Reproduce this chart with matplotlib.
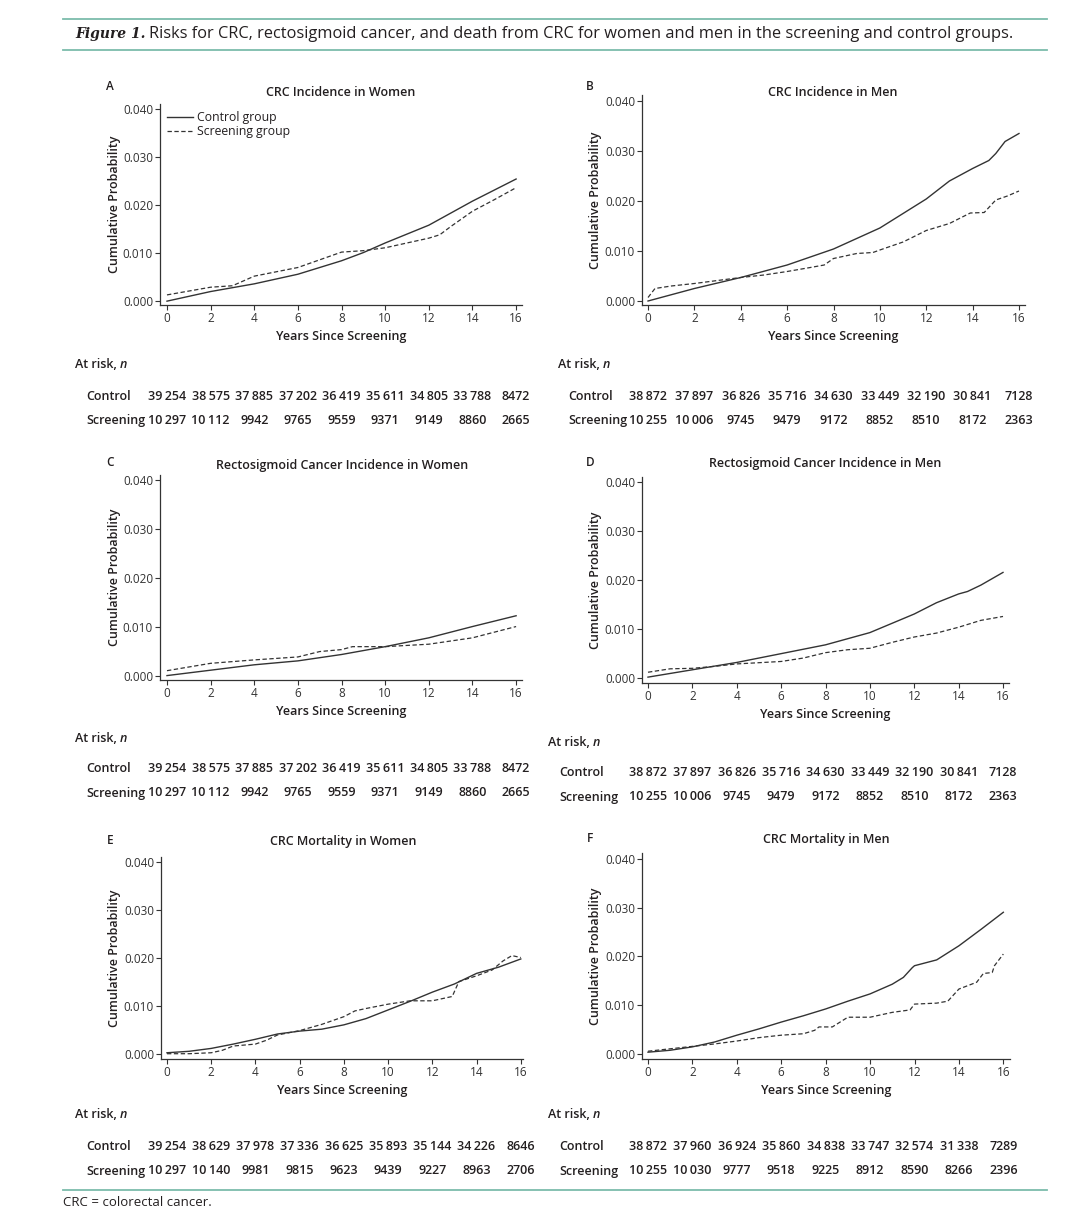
import matplotlib
matplotlib.use('Agg')
import matplotlib.pyplot as plt
from matplotlib.lines import Line2D
from matplotlib.text import Annotation

plt.rcParams['font.family'] = ['Open Sans', 'DejaVu Sans']
INK = '#231f20'
TEAL = '#7cbcab'
W, H = 1080, 1223

# ---- data ----
xticks = [0, 2, 4, 6, 8, 10, 12, 14, 16]
yticks = [0.0, 0.01, 0.02, 0.03, 0.04]

# A  CRC incidence, women
a_ctrl_x = [0, 2, 4, 6, 8, 9, 10, 12, 13, 14, 16]
a_ctrl_y = [0.0, 0.0020, 0.0036, 0.0056, 0.0084, 0.0101, 0.0121, 0.0158, 0.0183, 0.0208, 0.0254]
a_scr_x = [0, 1, 2, 3, 4, 5, 6, 7, 8, 9, 10, 11, 12, 12.5, 13, 14, 15, 16]
a_scr_y = [0.0013, 0.0021, 0.0029, 0.0032, 0.0052, 0.0061, 0.0070, 0.0086, 0.0102, 0.0105,
           0.0111, 0.0121, 0.0131, 0.0138, 0.0155, 0.0187, 0.0211, 0.0236]

# B  CRC incidence, men
b_ctrl_x = [0, 2, 4, 6, 8, 10, 11, 12, 13, 14, 14.7, 15, 15.4, 16]
b_ctrl_y = [0.0, 0.0025, 0.0047, 0.0072, 0.0104, 0.0146, 0.0175, 0.0204, 0.0240, 0.0265,
            0.0281, 0.0295, 0.0319, 0.0335]
b_scr_x = [0, 0.3, 1, 2, 3, 4, 5, 6, 7, 7.6, 8, 9, 9.7, 10, 11, 12, 13, 13.9, 14.5, 15, 15.5, 16]
b_scr_y = [0.0007, 0.0025, 0.0030, 0.0035, 0.0041, 0.0047, 0.0052, 0.0059, 0.0067, 0.0072,
           0.0085, 0.0095, 0.0097, 0.0102, 0.0118, 0.0141, 0.0155, 0.0176, 0.0177, 0.0202,
           0.0210, 0.0220]

# C  rectosigmoid incidence, women
c_ctrl_x = [0, 2, 4, 6, 8, 10, 12, 14, 16]
c_ctrl_y = [0.0001, 0.0012, 0.0023, 0.0031, 0.0044, 0.0060, 0.0078, 0.0101, 0.0123]
c_scr_x = [0, 2, 4, 6, 7, 8, 8.5, 10, 12, 14, 16]
c_scr_y = [0.0011, 0.0026, 0.0033, 0.0039, 0.0050, 0.0054, 0.0060, 0.0060, 0.0065, 0.0078, 0.0101]

# D  rectosigmoid incidence, men
d_ctrl_x = [0, 2, 4, 6, 8, 10, 12, 13, 14, 14.4, 15, 16]
d_ctrl_y = [0.0002, 0.0017, 0.0032, 0.0050, 0.0068, 0.0093, 0.0131, 0.0154, 0.0172, 0.0177,
            0.0190, 0.0216]
d_scr_x = [0, 1, 2, 3, 4, 6, 7, 8, 9, 10, 11, 12, 13, 14, 15, 16]
d_scr_y = [0.0012, 0.0019, 0.0020, 0.0024, 0.0029, 0.0034, 0.0041, 0.0052, 0.0058, 0.0061,
           0.0073, 0.0084, 0.0092, 0.0104, 0.0118, 0.0126]

# E  CRC mortality, women
e_ctrl_x = [0, 1, 2, 3, 4, 5, 6, 7, 8, 9, 10, 11, 12, 13, 14, 15, 16]
e_ctrl_y = [0.0003, 0.0006, 0.0012, 0.0021, 0.0031, 0.0042, 0.0048, 0.0052, 0.0061, 0.0074,
            0.0092, 0.0110, 0.0129, 0.0146, 0.0168, 0.0181, 0.0198]
e_scr_x = [0, 1, 2, 2.5, 3, 4, 4.5, 5, 6, 7, 8, 8.5, 9, 10, 11, 12, 12.5, 12.9, 13.2, 14,
           14.7, 15.2, 15.6, 16]
e_scr_y = [0.0001, 0.0001, 0.0003, 0.0008, 0.0017, 0.0021, 0.0029, 0.0040, 0.0049, 0.0062,
           0.0078, 0.0090, 0.0095, 0.0104, 0.0111, 0.0111, 0.0116, 0.0120, 0.0151, 0.0163,
           0.0175, 0.0194, 0.0205, 0.0201]

# F  CRC mortality, men
f_ctrl_x = [0, 1, 2, 3, 4, 5, 6, 7, 8, 9, 10, 11, 11.5, 11.9, 12, 13, 14, 15, 16]
f_ctrl_y = [0.0003, 0.0007, 0.0014, 0.0024, 0.0038, 0.0051, 0.0065, 0.0078, 0.0092, 0.0108,
            0.0123, 0.0143, 0.0157, 0.0177, 0.0181, 0.0193, 0.0222, 0.0256, 0.0291]
f_scr_x = [0, 1, 2, 3, 4, 5, 6, 7, 7.5, 7.7, 8.3, 9, 10, 11, 11.8, 12, 13, 13.5, 14, 14.8,
           15.1, 15.5, 15.6, 16]
f_scr_y = [0.0005, 0.0010, 0.0015, 0.0020, 0.0026, 0.0033, 0.0038, 0.0041, 0.0048, 0.0055,
           0.0055, 0.0075, 0.0075, 0.0085, 0.0090, 0.0102, 0.0104, 0.0108, 0.0133, 0.0147,
           0.0165, 0.0167, 0.0181, 0.0205]

# numbers at risk
a_risk_ctrl = [39254, 38575, 37885, 37202, 36419, 35611, 34805, 33788, 8472]
a_risk_scr = [10297, 10112, 9942, 9765, 9559, 9371, 9149, 8860, 2665]
b_risk_ctrl = [38872, 37897, 36826, 35716, 34630, 33449, 32190, 30841, 7128]
b_risk_scr = [10255, 10006, 9745, 9479, 9172, 8852, 8510, 8172, 2363]
e_risk_ctrl = [39254, 38629, 37978, 37336, 36625, 35893, 35144, 34226, 8646]
e_risk_scr = [10297, 10140, 9981, 9815, 9623, 9439, 9227, 8963, 2706]
f_risk_ctrl = [38872, 37960, 36924, 35860, 34838, 33747, 32574, 31338, 7289]
f_risk_scr = [10255, 10030, 9777, 9518, 9225, 8912, 8590, 8266, 2396]

titles = ['CRC Incidence in Women', 'CRC Incidence in Men',
          'Rectosigmoid Cancer Incidence in Women', 'Rectosigmoid Cancer Incidence in Men',
          'CRC Mortality in Women', 'CRC Mortality in Men']


def fx(x): return x / W
def fy(y): return 1 - y / H
def fmt(n): return f'{n:,}'.replace(',', '\u2009') if n >= 10000 else str(n)


# panel layout in pixels: letter, title centre, axes box, x range, at-risk rows
panels = [
    dict(L='A', lx=110, ly=86, tx=341, ty=92, box=(160, 104, 522, 305), xl=(-0.32, 16.27),
         yl=(-0.0008, 0.0410), ctrl=(a_ctrl_x, a_ctrl_y), scr=(a_scr_x, a_scr_y),
         risk=(a_risk_ctrl, a_risk_scr), rx=75, rlx=86, ry=(365, 396, 420)),
    dict(L='B', lx=590, ly=86, tx=833, ty=92, box=(642, 95, 1025, 305), xl=(-0.26, 16.26),
         yl=(-0.0008, 0.0412), ctrl=(b_ctrl_x, b_ctrl_y), scr=(b_scr_x, b_scr_y),
         risk=(b_risk_ctrl, b_risk_scr), rx=558, rlx=568, ry=(365, 396, 420)),
    dict(L='C', lx=110, ly=463, tx=342, ty=465, box=(160, 475, 522, 680), xl=(-0.32, 16.27),
         yl=(-0.0008, 0.0410), ctrl=(c_ctrl_x, c_ctrl_y), scr=(c_scr_x, c_scr_y),
         risk=(a_risk_ctrl, a_risk_scr), rx=75, rlx=86, ry=(739, 769, 793)),
    dict(L='D', lx=590, ly=463, tx=825, ty=463, box=(642, 477, 1009, 683), xl=(-0.27, 16.27),
         yl=(-0.0010, 0.0411), ctrl=(d_ctrl_x, d_ctrl_y), scr=(d_scr_x, d_scr_y),
         risk=(b_risk_ctrl, b_risk_scr), rx=548, rlx=559, ry=(742, 773, 797)),
    dict(L='E', lx=110, ly=840, tx=343, ty=841, box=(161, 857, 523, 1059), xl=(-0.27, 16.1),
         yl=(-0.0010, 0.0410), ctrl=(e_ctrl_x, e_ctrl_y), scr=(e_scr_x, e_scr_y),
         risk=(e_risk_ctrl, e_risk_scr), rx=75, rlx=86, ry=(1115, 1146, 1171)),
    dict(L='F', lx=590, ly=838, tx=826, ty=839, box=(642, 853, 1010, 1059), xl=(-0.27, 16.3),
         yl=(-0.0011, 0.0413), ctrl=(f_ctrl_x, f_ctrl_y), scr=(f_scr_x, f_scr_y),
         risk=(f_risk_ctrl, f_risk_scr), rx=548, rlx=559, ry=(1115, 1146, 1171)),
]

fig = plt.figure(figsize=(W / 100, H / 100), dpi=100)

# caption with rules
for yy in (19, 50):
    fig.add_artist(Line2D([fx(63), fx(1047)], [fy(yy), fy(yy)], color=TEAL, lw=1.3))
t1 = fig.text(fx(75), fy(34), 'Figure 1.', family='DejaVu Serif', style='italic',
              weight='bold', fontsize=10, color=INK, va='center')
cap = Annotation('Risks for CRC, rectosigmoid cancer, and death from CRC for women and men '
                 'in the screening and control groups.', xy=(1, 0.5), xycoords=t1,
                 xytext=(2.5, 0), textcoords='offset points', fontsize=11.75, color=INK,
                 va='center', annotation_clip=False)
fig.add_artist(cap)

for i, p in enumerate(panels):
    l, t, r, b = p['box']
    ax = fig.add_axes([fx(l), fy(b), fx(r - l), (b - t) / H])
    ax.plot(*p['ctrl'], color='#333333', lw=1.0, label='Control group')
    ax.plot(*p['scr'], color='#333333', lw=0.9, ls=(0, (3.5, 2)), label='Screening group')
    ax.set_xlim(*p['xl']); ax.set_ylim(*p['yl'])
    ax.set_xticks(xticks); ax.set_yticks(yticks)
    ax.set_yticklabels([f'{v:.3f}' for v in yticks])
    ax.tick_params(labelsize=8.5, colors='#333333', length=3.5, width=0.8, pad=1.5)
    ax.spines['top'].set_visible(False); ax.spines['right'].set_visible(False)
    for s in ('left', 'bottom'):
        ax.spines[s].set_color('#333333'); ax.spines[s].set_linewidth(0.9)
    ax.set_ylabel('Cumulative Probability', fontsize=9, weight='semibold', color=INK)
    ax.yaxis.set_label_coords((121 - l) / (r - l) if l < 500 else (602 - l) / (r - l), 0.5)
    ax.set_xlabel('Years Since Screening', fontsize=9, weight='semibold', color=INK)
    ax.xaxis.set_label_coords(0.5, -(330 - 305) / (b - t))
    if i == 0:
        ax.legend(loc='upper left', bbox_to_anchor=(fx(167), fy(111)),
                  bbox_transform=fig.transFigure, frameon=False, fontsize=8.8,
                  handlelength=2.1, handletextpad=0.35, labelspacing=0.12, borderpad=0,
                  borderaxespad=0, labelcolor=INK)

    fig.text(fx(p['lx']), fy(p['ly']), p['L'], fontsize=8.5, weight='semibold', color=INK,
             ha='center', va='center')
    fig.text(fx(p['tx']), fy(p['ty']), titles[i], fontsize=9, weight='semibold', color=INK,
             ha='center', va='center')

    # at-risk table
    hy, cy, sy = p['ry']
    ar = fig.text(fx(p['rx']), fy(hy), 'At risk, ', fontsize=9, weight='semibold', color=INK,
                  va='center')
    ax.annotate('n', xy=(1, 0.5), xycoords=ar, va='center', fontsize=9, style='italic',
                weight='semibold', color=INK, annotation_clip=False)
    fig.text(fx(p['rlx']), fy(cy), 'Control', fontsize=9, weight='semibold', color=INK, va='center')
    fig.text(fx(p['rlx']), fy(sy), 'Screening', fontsize=9, weight='semibold', color=INK, va='center')
    tr = ax.get_xaxis_transform()
    for xv, c, s in zip(xticks, *p['risk']):
        ax.text(xv, 1 - (cy - t) / (b - t), fmt(c), transform=tr, ha='center', va='center',
                fontsize=9, weight='semibold', color=INK, clip_on=False)
        ax.text(xv, 1 - (sy - t) / (b - t), fmt(s), transform=tr, ha='center', va='center',
                fontsize=9, weight='semibold', color=INK, clip_on=False)

fig.add_artist(Line2D([fx(63), fx(1047)], [fy(1190), fy(1190)], color=TEAL, lw=1.3))
fig.text(fx(63), fy(1203), 'CRC = colorectal cancer.', fontsize=9.5, color=INK, va='center')

fig.savefig('out.png', dpi=100, facecolor='white')
